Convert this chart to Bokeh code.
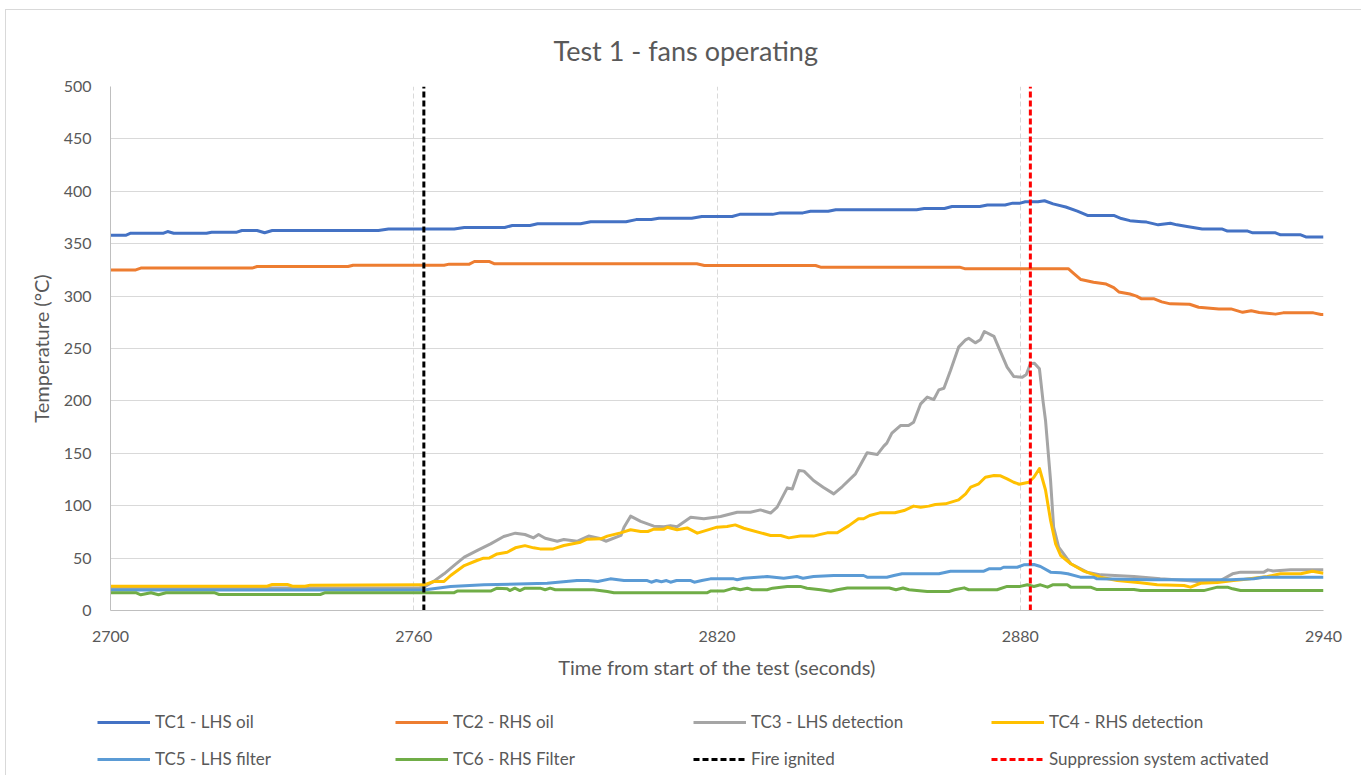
from bokeh.plotting import figure
from bokeh.models import Range1d, FixedTicker, Legend, LegendItem
from bokeh.embed import file_html
from bokeh.resources import INLINE

# ---------------- data ----------------
title_text = "Test 1 - fans operating"
x_label = "Time from start of the test (seconds)"
y_label = "Temperature (°C)"
x_ticks = [2700, 2760, 2820, 2880, 2940]
y_ticks = [0, 50, 100, 150, 200, 250, 300, 350, 400, 450, 500]

names = ["TC1 - LHS oil", "TC2 - RHS oil", "TC3 - LHS detection", "TC4 - RHS detection",
         "TC5 - LHS filter", "TC6 - RHS Filter", "Fire ignited", "Suppression system activated"]

tc1_t = [2700, 2703, 2704, 2710.5, 2711.3, 2712.5, 2719, 2720, 2725, 2726, 2729, 2730.5, 2732, 2753, 2755,
         2768, 2770, 2778, 2779.5, 2783, 2784.5, 2793, 2795, 2802, 2804, 2807, 2808.5, 2815, 2817, 2823,
         2824.5, 2831, 2832.5, 2837, 2838.5, 2842, 2843.5, 2859.5, 2861, 2865, 2866.5, 2872, 2873.5, 2877,
         2878.5, 2880, 2881, 2883.5, 2884.8, 2886.5, 2889, 2891.3, 2893.3, 2898.5, 2900, 2901.7, 2904, 2905,
         2907.3, 2909.7, 2911, 2913, 2916, 2920, 2921, 2925, 2926, 2930.5, 2931.5, 2935.5, 2936.5, 2940]
tc1_v = [358, 358, 360, 360, 361.6, 360, 360, 361, 361, 362.6, 362.6, 360.5, 362.6, 362.6, 364,
         364, 365.5, 365.5, 367.4, 367.4, 369, 369, 371, 371, 373, 373, 374.3, 374.3, 376, 376,
         378, 378, 379.4, 379.4, 381, 381, 382.4, 382.4, 383.6, 383.6, 385.5, 385.5, 387, 387,
         388.7, 388.7, 390, 390, 391, 388, 385, 381, 377, 377, 374, 372, 371, 370.6,
         368, 369.5, 368, 366.4, 364, 364, 362, 362, 360.4, 360.4, 358.5, 358.5, 356.5, 356.5]

tc2_t = [2700, 2705, 2706, 2728, 2729, 2747, 2748, 2766, 2767, 2771, 2772, 2775, 2776, 2816, 2817.5,
         2839.5, 2840.5, 2868, 2869, 2889.5, 2890.5, 2892, 2894.5, 2897, 2898.5, 2899.5, 2901.7, 2903,
         2904, 2906.5, 2908, 2909.7, 2913.5, 2915.3, 2919.3, 2921.7, 2924, 2925.7, 2927.3, 2930.5, 2932,
         2938, 2939.5, 2940]
tc2_v = [325, 325, 326.7, 326.7, 328.2, 328.2, 329.5, 329.5, 330.5, 330.5, 333, 333, 330.8, 330.8, 329.2,
         329.2, 327.6, 327.6, 326.2, 326.2, 322, 315.8, 313.3, 311.5, 308, 304, 302, 300,
         297.4, 297.4, 294.5, 292.6, 292.2, 289.4, 287.8, 287.8, 284.5, 286, 284.3, 282.8, 284,
         284, 282.5, 282.5]

tc3_t = [2700, 2761, 2762, 2764, 2766, 2768, 2770, 2772.6, 2775.2, 2777.8, 2780.1, 2782, 2783.7, 2784.7,
         2786, 2788.4, 2789.7, 2792.3, 2794.6, 2796.6, 2798, 2801, 2801.6, 2802.9, 2804.9, 2807.5, 2809.5,
         2810.8, 2812.1, 2814.8, 2817.4, 2820.7, 2824, 2826.6, 2828.6, 2830.6, 2831.9, 2833.9, 2834.9,
         2836.2, 2837.2, 2839.1, 2841, 2843.1, 2844.8, 2847.4, 2849.7, 2851.7, 2853, 2853.6, 2854.6,
         2856.3, 2857.9, 2858.9, 2860.3, 2861.6, 2862.9, 2863.9, 2864.9, 2866.2, 2867.8, 2869.2, 2869.8,
         2871.1, 2872.1, 2872.9, 2874.8, 2875.7, 2877.4, 2878.7, 2880.4, 2881.2, 2882, 2882.8, 2883.8,
         2884.5, 2885, 2886, 2886.6, 2887.6, 2890, 2893.2, 2895.9, 2902.5, 2907.7, 2913, 2917, 2919.6,
         2922, 2923.6, 2928.2, 2929, 2930, 2933.5, 2940]
tc3_v = [21.5, 21.5, 22.3, 28, 35, 43, 50.9, 57.3, 63.6, 70.6, 73.8, 72.5, 69.3, 72.5,
         69, 66.1, 67.7, 66, 71, 69, 66.1, 71.6, 79.5, 90, 85, 80.5, 80,
         81, 80, 89, 87.5, 89.7, 93.8, 93.8, 96, 93, 98.6, 117, 116,
         133.6, 133, 124, 117.7, 111.3, 118.3, 130.4, 150.6, 148.8, 156.8, 159.7, 169.2,
         176.5, 176.5, 179.7, 197.2, 203.6, 201.3, 210.5, 212.1, 229, 251.3, 258.3, 259.8,
         255.4, 258.3, 266.2, 261.5, 251.3, 232.2, 223.3, 222.6, 225.2, 235.4, 236, 230.6,
         200, 181.3, 124, 79.5, 60.4, 44.6, 36.6, 34, 32.4, 30.2, 28.6, 26.7, 28.6,
         35, 36.6, 36.6, 38.8, 37.7, 38.8, 38.8]

tc4_t = [2700, 2731, 2732, 2735, 2736, 2738.5, 2739.5, 2762, 2764, 2766, 2767.3, 2770, 2772.5, 2773.8,
         2775, 2776.5, 2778.5, 2780.1, 2782, 2783.7, 2785, 2787.6, 2789.7, 2793, 2794.3, 2797, 2798.3,
         2800.9, 2802.9, 2804.9, 2806.3, 2807.5, 2809.5, 2810.2, 2812.1, 2814.1, 2816.1, 2820, 2822,
         2823.6, 2825.3, 2830.6, 2832.6, 2834.2, 2836.5, 2839.1, 2840.5, 2841.8, 2843.8, 2846.1, 2848,
         2849, 2850.2, 2852.2, 2855.2, 2857, 2858.9, 2860.3, 2861.9, 2863.2, 2865.2, 2867.8, 2869.2,
         2870.2, 2871.8, 2873.1, 2874.8, 2876.1, 2877.4, 2878.7, 2879.8, 2881.7, 2882.7, 2883.8, 2885,
         2886, 2887, 2888, 2890, 2892.6, 2895.9, 2899.2, 2903.8, 2907.1, 2912.4, 2913.7, 2915.7, 2919,
         2922.2, 2924.2, 2928.9, 2931.5, 2935.5, 2937.8, 2940]
tc4_v = [23.2, 23.2, 24.8, 24.8, 23.2, 23.2, 24.2, 24.5, 27.7, 27.7, 33.4, 42.9, 47.7, 49.9,
         50.2, 54, 55.6, 59.8, 61.9, 59.8, 58.8, 58.8, 62, 65.2, 68, 68.4, 71,
         74.1, 77, 75.4, 75.4, 77.6, 77.6, 79.5, 77, 78.8, 73.8, 79.5, 80.2,
         81.7, 78.5, 71.6, 71.6, 69.3, 71, 71, 72.6, 74.1, 74.1, 81, 87.5,
         87.5, 90.6, 93.2, 93.2, 95.4, 99.6, 98.6, 99.6, 101.1, 101.8, 105.6, 111.3,
         117.7, 120.9, 127.2, 128.8, 128.5, 125.6, 122.4, 120.5, 122.4, 127.2, 135.5, 115,
         85.9, 63.6, 52.5, 44.6, 37.5, 31.8, 28.6, 26.4, 24.5, 23.9, 22.3, 26, 26.7,
         28.6, 29.6, 32.4, 35, 35, 37.5, 35.6]

tc5_t = [2700, 2762, 2764.6, 2767.3, 2773.9, 2786.4, 2792.3, 2794.5, 2796.4, 2798.9, 2801.6, 2806.2,
         2807, 2808, 2809, 2810, 2810.8, 2812, 2814.8, 2815.5, 2817, 2818.7, 2823.3, 2824, 2825.3,
         2829.9, 2833.2, 2835.8, 2837, 2839.1, 2843.1, 2849, 2849.7, 2853.6, 2855, 2856.6, 2863.9,
         2866.2, 2872.8, 2873.8, 2876.1, 2876.7, 2879.4, 2880.7, 2882.7, 2884, 2886, 2888, 2889.4,
         2891.9, 2894.5, 2895.2, 2905.6, 2921.6, 2926.2, 2928.2, 2940]
tc5_v = [19.5, 19.5, 21.3, 22.9, 24.5, 26, 28.6, 28.6, 27.7, 30.2, 28.6, 28.6,
         27, 28.6, 27.5, 28.6, 27, 28.6, 28.6, 27, 28.6, 30.2, 30.2, 29.3, 30.8,
         32.4, 30.8, 32.4, 30.8, 32.4, 33.4, 33.4, 31.8, 31.8, 33.4, 35, 35,
         37.5, 37.5, 39.8, 39.8, 41.3, 41.3, 43.6, 43.9, 42, 36.6, 36, 35,
         31.8, 31.8, 30.2, 29.3, 29.3, 30.2, 31.8, 31.8]

tc6_t = [2700, 2705, 2706, 2708, 2709.5, 2711, 2720.5, 2721.5, 2741.5, 2742.5, 2768, 2768.6, 2775.2,
         2776.5, 2778.5, 2779, 2780, 2781, 2782, 2785, 2786, 2787, 2788, 2795.6, 2798.3, 2799.6, 2818,
         2818.7, 2821.3, 2823.3, 2824.6, 2826, 2827, 2829.9, 2831, 2833.9, 2836.5, 2837.8, 2840.5, 2842.5,
         2843.8, 2845.8, 2854.1, 2855.4, 2856.8, 2858, 2861.6, 2865.9, 2867, 2868.9, 2869.8, 2875.4,
         2877.4, 2880, 2881.4, 2882.7, 2884, 2885.4, 2886.4, 2889.3, 2890, 2893.9, 2895.2, 2902.5,
         2903.8, 2916.3, 2919, 2921, 2922, 2923.6, 2940]
tc6_v = [17, 17, 15, 17, 15, 17, 17, 15.3, 15.3, 17, 17, 18.5, 18.5,
         21.3, 20.7, 19, 21.3, 19, 21.3, 21.3, 19.8, 21.3, 19.8, 19.8, 18.1, 16.9, 16.9,
         18.5, 18.5, 21.3, 19.8, 21.3, 19.8, 19.8, 21.3, 23, 23, 21.3, 19.8, 18.3,
         19.8, 21.5, 21.5, 19.8, 21.5, 19.8, 18.1, 18.1, 19.8, 21.6, 19.8, 19.8,
         23, 23, 24.5, 22.9, 24.5, 22.3, 24.5, 24.5, 22.3, 22.3, 20, 20,
         19, 19, 22.3, 22.3, 20.7, 19, 19]

fire_t = [2762, 2762]
fire_v = [0, 500]
supp_t = [2882, 2882]
supp_v = [0, 500]

colors = ["#4472C4", "#ED7D31", "#A5A5A5", "#FFC000", "#5B9BD5", "#70AD47", "#000000", "#FF0000"]
dashes = ["solid"] * 6 + ["6 3", "6 3"]

FONT = "Lato"
TXT = "#595959"
GRID = "#D9D9D9"
EDGE = "1px solid #D9D9D9"

series = [(tc1_t, tc1_v), (tc2_t, tc2_v), (tc3_t, tc3_v), (tc4_t, tc4_v),
          (tc5_t, tc5_v), (tc6_t, tc6_v), (fire_t, fire_v), (supp_t, supp_v)]

# ---------------- main chart ----------------
p = figure(width=1356, height=680, output_backend="svg", toolbar_location=None,
           x_range=Range1d(2700, 2940), y_range=Range1d(0, 500),
           min_border_left=104, min_border_right=39, min_border_top=76, min_border_bottom=80,
           title=title_text)
p.margin = (9, 0, 0, 5)
p.styles = {"border-left": EDGE, "border-top": EDGE}
p.outline_line_color = None
p.background_fill_color = "white"
p.border_fill_color = "white"

p.title.align = "left"
p.title.offset = 443
p.title.standoff = 40
p.title.text_font = FONT
p.title.text_font_size = "27px"
p.title.text_font_style = "normal"
p.title.text_color = TXT

p.xaxis.ticker = FixedTicker(ticks=x_ticks)
p.yaxis.ticker = FixedTicker(ticks=y_ticks)
for ax in (p.xaxis[0], p.yaxis[0]):
    ax.major_tick_line_color = None
    ax.minor_tick_line_color = None
    ax.axis_line_color = "#BFBFBF"
    ax.major_label_text_font = FONT
    ax.major_label_text_font_size = "16px"
    ax.major_label_text_color = TXT
    ax.axis_label_text_font = FONT
    ax.axis_label_text_font_size = "20px"
    ax.axis_label_text_font_style = "normal"
    ax.axis_label_text_color = TXT
p.xaxis.axis_label = x_label
p.yaxis.axis_label = y_label
p.xaxis.major_label_standoff = 14
p.xaxis.axis_label_standoff = 10
p.yaxis.major_label_standoff = 13
p.yaxis.axis_label_standoff = 8

p.ygrid.grid_line_color = GRID
p.ygrid.grid_line_width = 1
p.xgrid.grid_line_color = GRID
p.xgrid.grid_line_dash = "5 3"
p.xgrid.grid_line_width = 1

for (t, v), c, d in zip(series, colors, dashes):
    p.line(t, v, line_color=c, line_width=3, line_join="round", line_dash=d)

# ---------------- legend strip: same series, view range keeps them out of sight ----------------
lg = figure(width=1356, height=86, output_backend="svg", toolbar_location=None,
            x_range=Range1d(0, 1), y_range=Range1d(0, 1),
            x_axis_location=None, y_axis_location=None,
            min_border_left=0, min_border_right=0, min_border_top=0, min_border_bottom=0)
lg.margin = (0, 0, 0, 5)
lg.styles = {"border-left": EDGE}
lg.outline_line_color = None
lg.xgrid.visible = False
lg.ygrid.visible = False
items = []
for (t, v), n, c, d in zip(series, names, colors, dashes):
    r = lg.line(t, v, line_color=c, line_width=3, line_dash=d)
    items.append(LegendItem(label=n, renderers=[r]))
legend = Legend(items=items, ncols=4, orientation="horizontal", location=(91, 6),
                glyph_width=53, glyph_height=20, label_height=20, label_width=224,
                label_standoff=5, spacing=16, padding=8, margin=0,
                label_text_font=FONT, label_text_font_size="17px", label_text_color=TXT,
                border_line_color=None, background_fill_alpha=0)
lg.add_layout(legend, "center")

open("out.html", "w").write(file_html([p, lg], INLINE))
